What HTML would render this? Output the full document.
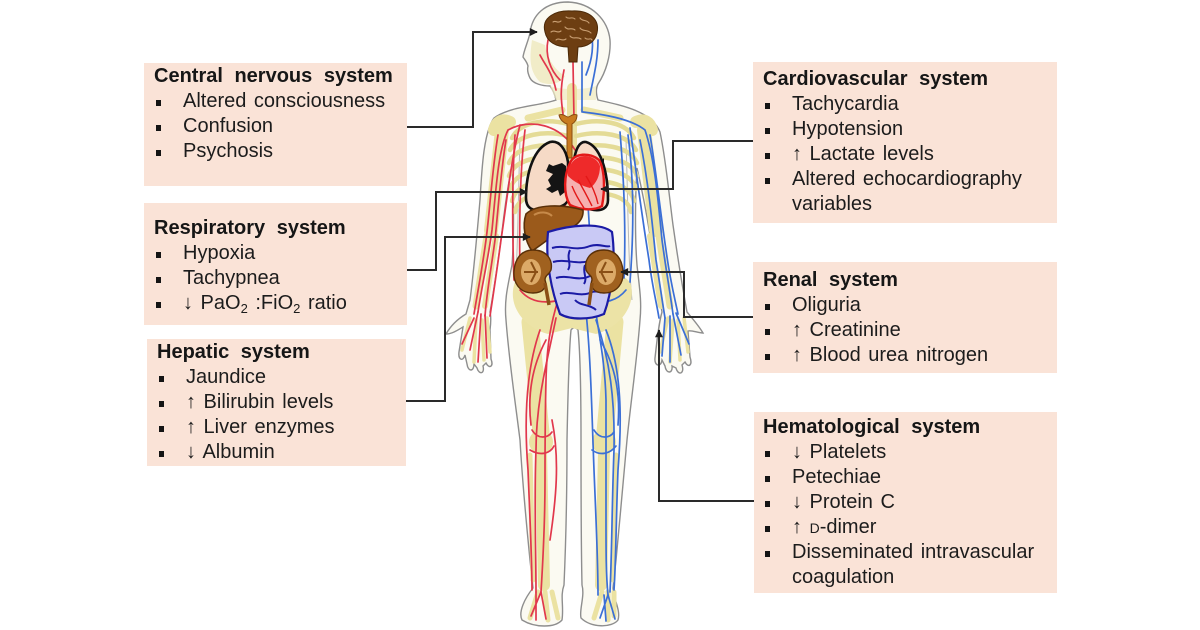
<!DOCTYPE html>
<html><head><meta charset="utf-8">
<style>
html,body{margin:0;padding:0}
body{width:1200px;height:630px;background:#fff;overflow:hidden;position:relative;font-family:"Liberation Sans",Arial,sans-serif;color:#1c1c1c}
.box{position:absolute;background:#fae3d7}
.t{position:absolute;font-size:20px;line-height:25px;white-space:nowrap;word-spacing:2px}
.h{font-weight:bold;word-spacing:6px;color:#161616;height:25px}
.li{position:relative;padding-left:29px;height:25px}
.li:before{content:"";position:absolute;left:2px;top:11px;width:5px;height:6px;background:#141414}
.c{padding-left:29px;height:25px}
sub{font-size:13px;line-height:0;vertical-align:-4px}
.sc{font-size:14px}
svg{position:absolute;left:0;top:0}
</style></head><body>

<svg width="1200" height="630" viewBox="0 0 1200 630">
  <!-- body outline -->
  <path d="M556 100 C540 106 510 106 494 118 C484 132 482 165 480 200 C477 235 474 270 470 300 L466 314
    C456 320 450 327 446 334 C452 334 458 330 463 327 L459 352 C458 360 463 362 465 355
    L467 364 C468 372 474 372 474 364 L477 368 C479 375 485 374 483 366 L486 363 C489 369 494 367 491 359
    L490 330 C491 322 491 316 490 312 C494 290 498 262 502 232 C505 205 508 185 512 165
    C514 200 514 240 512 265 C508 285 504 300 506 320 C509 360 515 400 520 440
    C522 475 526 520 530 560 L533 588 C525 598 518 612 522 620 C535 628 555 628 562 620
    C564 606 560 596 564 585 C566 540 567 480 567 440 C568 390 569 350 571 330
    C573 327 576 327 578 330 C580 350 581 390 581 440 C581 480 581 540 582 585
    C585 596 579 610 581 618 C591 628 612 628 618 620 C621 610 613 598 613 588
    L616 560 C620 520 624 470 627 440 C631 400 637 360 640 320 C642 300 639 285 637 265
    C635 240 635 200 637 168 C642 190 646 210 650 235 C654 262 658 290 662 312
    C659 322 657 340 655 358 C654 366 661 368 662 360 L665 366 C666 374 673 374 672 366
    L676 368 C678 376 685 374 682 365 L685 362 C688 368 693 366 690 357 L688 331
    C692 330 698 333 703 333 C699 326 692 318 687 312 C683 290 678 260 673 225
    C669 195 666 160 660 132 C652 112 625 106 598 100
    C596 94 596 88 598 84 C606 72 611 55 610 40 C608 20 592 3 568 2
    C545 2 532 15 530 33 C528 42 524 50 523 57 C525 60 527 62 528 66 C527 70 528 74 530 78
    C533 84 543 86 550 86 C553 90 555 95 556 100 Z"
    fill="#fbfaf2" stroke="#8e8e8e" stroke-width="1.4"/>

  <!-- faint inner outlines -->
  <path d="M520 140 C518 200 518 260 514 300" stroke="#b9b9b9" stroke-width="1" fill="none"/>
  <path d="M626 140 C628 200 628 260 632 300" stroke="#b9b9b9" stroke-width="1" fill="none"/>

  <!-- skull/face tint -->
  <path d="M532 40 C530 55 528 70 540 82 C550 86 560 84 565 76 C555 70 548 60 545 45 Z" fill="#efe9bd" opacity="0.8"/>
  <path d="M550 86 C560 90 585 90 596 86 L596 100 L556 100 Z" fill="#f0eac0" opacity="0.7"/>

  <!-- bones -->
  <g stroke="#ebe2a2" stroke-linecap="round" fill="none">
    <path d="M572 88 L572 300" stroke-width="10"/>
    <path d="M528 118 L562 110 M584 110 L620 118" stroke-width="7"/>
    <path d="M510 122 C502 118 496 122 494 130" stroke-width="12"/>
    <path d="M636 122 C644 118 650 122 652 130" stroke-width="12"/>
    <path d="M502 130 L491 230" stroke-width="14"/>
    <path d="M487 236 L476 306" stroke-width="7"/>
    <path d="M496 236 L485 306" stroke-width="6"/>
    <path d="M644 130 L656 230" stroke-width="14"/>
    <path d="M659 236 L670 306" stroke-width="7"/>
    <path d="M650 236 L661 306" stroke-width="6"/>
    <path d="M530 322 L541 432" stroke-width="17"/>
    <path d="M541 452 L544 585" stroke-width="12"/>
    <path d="M530 455 L533 580" stroke-width="5"/>
    <path d="M615 322 L605 432" stroke-width="17"/>
    <path d="M604 452 L601 585" stroke-width="12"/>
    <path d="M616 455 L613 580" stroke-width="5"/>
    <path d="M470 318 L462 350 M476 320 L474 362 M482 320 L484 360 M487 318 L490 352" stroke-width="3.5"/>
    <path d="M668 318 L660 352 M673 320 L670 362 M678 320 L680 360 M684 318 L688 352" stroke-width="3.5"/>
    <path d="M538 592 L530 618 M545 592 L548 620 M552 592 L558 618" stroke-width="5"/>
    <path d="M602 592 L594 618 M608 592 L608 620 M614 592 L614 616" stroke-width="5"/>
  </g>
  <circle cx="541" cy="442" r="12" fill="#ebe2a2"/>
  <circle cx="604" cy="442" r="12" fill="#ebe2a2"/>
  <path d="M514 285 C520 266 558 276 572 288 C586 276 624 266 631 285 C636 308 618 328 596 334 L572 328 L548 334 C526 328 508 308 514 285 Z" fill="#ece3a6"/>
  <!-- ribs -->
  <g stroke="#e4db96" stroke-width="4.5" fill="none" stroke-linecap="round">
    <path d="M568 124 C545 118 520 122 512 138"/>
    <path d="M568 136 C545 130 518 134 510 150"/>
    <path d="M568 148 C545 142 516 146 509 163"/>
    <path d="M568 160 C545 154 515 158 509 176"/>
    <path d="M568 172 C545 166 515 170 510 189"/>
    <path d="M568 184 C545 178 516 182 512 201"/>
    <path d="M568 196 C545 190 518 194 515 212"/>
    <path d="M576 124 C600 118 626 122 634 138"/>
    <path d="M576 136 C600 130 628 134 636 150"/>
    <path d="M576 148 C600 142 630 146 637 163"/>
    <path d="M576 160 C600 154 631 158 637 176"/>
    <path d="M576 172 C600 166 631 170 636 189"/>
    <path d="M576 184 C600 178 630 182 634 201"/>
    <path d="M576 196 C600 190 628 194 631 212"/>
  </g>

  <!-- red arteries -->
  <g stroke="#e1374c" stroke-width="1.7" fill="none" stroke-linecap="round">
    <path d="M573 62 L574 120"/>
    <path d="M564 70 C560 90 561 100 563 114"/>
    <path d="M548 40 C545 55 550 70 560 80"/>
    <path d="M540 55 C545 65 552 72 556 90"/>
    <path d="M575 150 C560 124 530 118 508 130 C498 150 496 190 492 230 C488 260 482 285 478 312"/>
    <path d="M506 140 C501 170 499 200 495 240 C491 270 487 290 485 316"/>
    <path d="M520 125 C511 160 507 200 501 240 C497 270 494 290 490 316"/>
    <path d="M498 135 C492 170 490 210 486 240 C482 270 478 290 474 314"/>
    <path d="M515 135 C512 180 512 225 514 280"/>
    <path d="M525 130 C520 170 519 220 520 275"/>
    <path d="M478 312 L470 350 M481 314 L478 362 M485 315 L487 358 M474 318 L462 344"/>
    <path d="M566 200 C562 240 560 270 558 300 C552 320 547 340 546 380 C545 420 545 450 545 480 C545 520 543 560 541 592"/>
    <path d="M556 318 C548 358 536 400 536 450 C534 500 536 550 536 592"/>
    <path d="M546 340 C530 370 528 400 531 425"/>
    <path d="M552 420 C560 460 556 500 550 540"/>
    <path d="M540 330 C526 370 524 420 528 470 C530 520 532 560 532 590"/>
    <path d="M532 430 C538 440 548 438 552 432 M530 450 C540 456 550 454 554 446"/>
    <path d="M541 592 L531 616 M541 592 L546 619 M536 592 L536 620"/>
    <path d="M560 300 C540 305 528 300 520 290"/>
  </g>
  <!-- blue veins -->
  <g stroke="#3b6fd6" stroke-width="1.7" fill="none" stroke-linecap="round">
    <path d="M582 62 L582 112"/>
    <path d="M590 25 C595 45 592 60 586 75"/>
    <path d="M598 40 C598 60 594 75 590 95"/>
    <path d="M583 112 C600 114 630 118 645 130 C655 160 658 200 662 240 C666 270 670 292 673 314"/>
    <path d="M640 140 C648 180 652 220 656 260 C660 285 662 300 665 318"/>
    <path d="M630 128 C636 170 641 210 649 260 C652 285 656 300 659 318"/>
    <path d="M650 135 C656 170 660 210 666 250 C670 280 674 295 678 314"/>
    <path d="M628 135 C634 180 634 230 630 282"/>
    <path d="M620 132 C624 180 626 230 624 278"/>
    <path d="M673 314 L681 355 M670 316 L670 362 M665 318 L662 356 M676 313 L689 344"/>
    <path d="M588 205 C590 240 592 270 594 300 C598 330 605 360 606 400 C606 440 606 480 606 520 C606 550 606 575 608 595"/>
    <path d="M596 320 C610 360 615 400 614 450 C612 500 612 550 610 592"/>
    <path d="M586 312 C591 360 592 420 594 470 C596 520 598 560 598 595"/>
    <path d="M600 340 C618 370 620 400 618 425"/>
    <path d="M606 330 C622 370 622 420 618 470 C616 520 616 560 614 590"/>
    <path d="M594 430 C600 440 610 438 614 432 M592 450 C600 456 610 454 616 446"/>
    <path d="M608 595 L600 618 M608 595 L615 619 M604 595 L606 621"/>
    <path d="M588 300 C605 305 618 300 626 290"/>
  </g>

  <!-- brain -->
  <path d="M545 32 C541 17 556 10 572 11 C590 10 600 20 597 33 C595 42 587 47 578 47 L577 62 L569 62 L568 47 C556 47 547 42 545 32 Z" fill="#6d3e12" stroke="#4a2807" stroke-width="1"/>
  <g stroke="#caa074" stroke-width="1.1" fill="none" stroke-linecap="round">
    <path d="M553 22 C556 20 558 24 561 21 M566 17 C569 20 572 16 575 19 M580 18 C583 22 586 19 589 23"/>
    <path d="M551 32 C555 29 557 34 561 31 M565 27 C568 31 572 27 575 30 M580 28 C583 32 587 29 591 33"/>
    <path d="M556 40 C559 37 562 42 566 39 M570 36 C573 40 577 36 581 39 M585 38 C588 41 591 37 592 40"/>
  </g>

  <!-- trachea -->
  <path d="M559 115 C563 113 566 117 568 117 C570 117 573 113 577 115 C577 120 574 123 572 124 L572 158 L567 158 L567 124 C564 123 560 120 559 115 Z" fill="#c87b1f" stroke="#8a4c10" stroke-width="1"/>

  <!-- lungs -->
  <path d="M550 142 C534 148 526 172 526 198 C526 208 532 212 546 210 C558 208 566 206 568 200 L568 162 C566 150 560 140 550 142 Z" fill="#f6dac6" stroke="#111" stroke-width="2.6"/>
  <path d="M586 142 C600 146 608 170 608 200 C608 208 602 211 594 210 L578 207 L574 160 C576 148 580 141 586 142 Z" fill="#f6dac6" stroke="#111" stroke-width="2.6"/>
  <path d="M562 163 L553 166 L549 164 L546 171 L553 174 L548 180 L551 186 L546 189 L552 193 L558 190 L560 196 L565 192 L567 178 L566 166 Z" fill="#141414"/>
  <path d="M592 160 L600 162 L604 158 L604 166 L598 168 Z" fill="#141414"/>

  <!-- heart -->
  <path d="M570 163 C574 153 590 152 599 160 C605 170 605 190 602 206 C594 211 580 210 570 205 C563 194 564 175 570 163 Z" fill="#f6b0b0" stroke="#e31818" stroke-width="2.4"/>
  <path d="M571 164 C578 152 596 154 600 166 C600 176 596 184 590 188 C582 186 574 182 568 176 C567 171 568 167 571 164 Z" fill="#ee2a2a"/>
  <path d="M578 180 C584 190 588 198 592 206 M586 176 C592 186 596 194 598 204 M572 186 C576 196 580 202 584 208" stroke="#e31818" stroke-width="1.4" fill="none"/>

  <!-- liver -->
  <path d="M526 214 C536 204 562 204 583 210 C584 221 574 229 559 232 C548 239 540 246 532 251 C525 241 522 226 526 214 Z" fill="#9b5a1b" stroke="#5a3008" stroke-width="1.6"/>
  <path d="M534 215 C540 211 548 212 552 216" stroke="#c78a4a" stroke-width="2" fill="none"/>

  <!-- intestines -->
  <path d="M548 232 C570 225 600 222 612 232 C616 260 612 292 604 314 C590 320 570 320 560 314 C552 292 545 262 548 232 Z" fill="#c9c9f5" stroke="#1b1ba5" stroke-width="2.2"/>
  <g stroke="#1b1ba5" stroke-width="2" fill="none">
    <path d="M552 248 C565 244 575 252 590 246 C600 243 606 248 610 246"/>
    <path d="M553 262 C566 258 578 266 592 260 C600 258 606 262 609 260"/>
    <path d="M556 278 C568 274 578 282 590 276 C598 273 604 278 607 276"/>
    <path d="M560 294 C570 290 580 298 592 292 C598 290 602 294 604 292"/>
    <path d="M575 300 C580 306 590 304 596 310"/>
    <path d="M570 250 C566 258 572 264 568 270 M585 265 C582 272 588 278 584 284"/>
  </g>

  <!-- kidneys -->
  <path d="M533 250 C547 250 553 260 551 270 C549 275 545 275 545 280 C547 285 545 293 533 293 C519 293 513 282 514 271 C515 259 521 250 533 250 Z" fill="#a0611f" stroke="#5a3008" stroke-width="1.4"/>
  <ellipse cx="531" cy="272" rx="10" ry="13" fill="#dcaa68"/>
  <path d="M531 262 L536 272 L531 282 M524 272 L538 272" stroke="#8a4f15" stroke-width="2" fill="none"/>
  <path d="M604 250 C590 250 584 260 586 270 C588 275 592 275 592 280 C590 285 592 293 604 293 C618 293 624 282 623 271 C622 259 616 250 604 250 Z" fill="#a0611f" stroke="#5a3008" stroke-width="1.4"/>
  <ellipse cx="606" cy="272" rx="10" ry="13" fill="#dcaa68"/>
  <path d="M606 262 L601 272 L606 282 M613 272 L599 272" stroke="#8a4f15" stroke-width="2" fill="none"/>
  <path d="M545 283 L549 305 M592 283 L589 305" stroke="#8a4f15" stroke-width="3.5" fill="none"/>

  <!-- connectors -->
  <defs>
    <marker id="a" viewBox="0 0 10 10" refX="9" refY="5" markerWidth="9" markerHeight="8" markerUnits="userSpaceOnUse" orient="auto">
      <path d="M0 0 L10 5 L0 10 Z" fill="#1e1e1e"/>
    </marker>
  </defs>
  <g stroke="#2a2a2a" stroke-width="2" fill="none" marker-end="url(#a)">
    <polyline points="407,127 473,127 473,32 537,32"/>
    <polyline points="407,270 436,270 436,192 527,192"/>
    <polyline points="406,401 445,401 445,237 530,237"/>
    <polyline points="753,141 673,141 673,189 601,189"/>
    <polyline points="753,317 684,317 684,272 621,272"/>
    <polyline points="754,501 659,501 659,330"/>
  </g>
</svg>

<div class="box" style="left:144px;top:63px;width:263px;height:123px"></div>
<div class="box" style="left:144px;top:203px;width:263px;height:122px"></div>
<div class="box" style="left:147px;top:339px;width:259px;height:127px"></div>
<div class="box" style="left:753px;top:62px;width:304px;height:161px"></div>
<div class="box" style="left:753px;top:262px;width:304px;height:111px"></div>
<div class="box" style="left:754px;top:412px;width:303px;height:181px"></div>

<div class="t" style="left:154px;top:64px">
  <div class="h">Central nervous system</div>
  <div class="li">Altered consciousness</div>
  <div class="li">Confusion</div>
  <div class="li">Psychosis</div>
</div>

<div class="t" style="left:154px;top:216px">
  <div class="h">Respiratory system</div>
  <div class="li">Hypoxia</div>
  <div class="li">Tachypnea</div>
  <div class="li">↓ PaO<sub>2</sub> :FiO<sub>2</sub> ratio</div>
</div>

<div class="t" style="left:157px;top:340px">
  <div class="h">Hepatic system</div>
  <div class="li">Jaundice</div>
  <div class="li">↑ Bilirubin levels</div>
  <div class="li">↑ Liver enzymes</div>
  <div class="li">↓ Albumin</div>
</div>

<div class="t" style="left:763px;top:67px">
  <div class="h">Cardiovascular system</div>
  <div class="li">Tachycardia</div>
  <div class="li">Hypotension</div>
  <div class="li">↑ Lactate levels</div>
  <div class="li">Altered echocardiography</div>
  <div class="c">variables</div>
</div>

<div class="t" style="left:763px;top:268px">
  <div class="h">Renal system</div>
  <div class="li">Oliguria</div>
  <div class="li">↑ Creatinine</div>
  <div class="li">↑ Blood urea nitrogen</div>
</div>

<div class="t" style="left:763px;top:415px">
  <div class="h">Hematological system</div>
  <div class="li">↓ Platelets</div>
  <div class="li">Petechiae</div>
  <div class="li">↓ Protein C</div>
  <div class="li">↑ <span class="sc">D</span>-dimer</div>
  <div class="li">Disseminated intravascular</div>
  <div class="c">coagulation</div>
</div>

</body></html>
